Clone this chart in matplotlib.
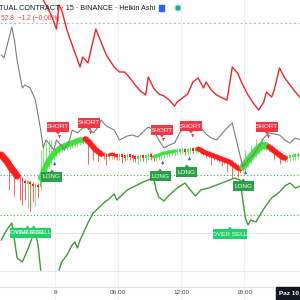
import numpy as np
import matplotlib.pyplot as plt
from matplotlib.patches import Rectangle, Polygon
from matplotlib.transforms import blended_transform_factory

plt.rcParams['font.family'] = ['Liberation Sans', 'DejaVu Sans']

# 15 minute bars, bar 0 = 18:45 on the 8th
tick_bars = [21, 45, 69, 93]
tick_labels = ['9', '06:00', '12:00', '18:00']

# heikin ashi closes, one per bar
candle_close = [145, 142, 139, 135, 131, 128, 124,
                122, 119, 117, 118, 116, 114, 115, 113,
                122, 128, 134, 139, 143, 146, 149, 151,
                153, 154, 155, 156, 157, 158, 159, 160, 160,
                161, 159, 156, 153, 150, 148, 146, 145, 144,
                145, 146, 145, 144, 145, 144, 143, 145, 144, 143, 142, 143, 144, 143, 144, 145, 144,
                143, 144, 145, 146, 147, 147, 148, 148, 149,
                149, 150, 150, 149, 150, 151, 150, 151,
                151, 150, 148, 147, 146, 145, 144, 143, 142, 141, 140, 139, 138, 136, 134, 132, 131,
                133, 136, 140, 143, 146, 149, 152, 154,
                155, 154,
                153, 151, 149, 147, 145, 143, 142,
                143, 144, 144, 145, 145, 146]
wick_low = {3: 110, 5: 104, 7: 100, 8: 95, 9: 100, 10: 92, 11: 88, 12: 98, 13: 94, 14: 102,
            33: 136, 35: 140, 37: 139, 40: 135, 46: 137, 52: 136, 55: 138,
            80: 135, 84: 134, 86: 128, 88: 122, 90: 123, 104: 140, 106: 136}
wick_high = {15: 150, 16: 155, 17: 158, 18: 160, 19: 160, 93: 150, 95: 155, 97: 160, 99: 162}

# thick trend ribbon: (first bar, last bar, colour, width)
ribbon = [(0, 6, 'red', 5), (15, 31, 'green', 4), (32, 38, 'red', 4), (41, 44, 'red', 2),
          (58, 66, 'green', 2.5), (75, 91, 'red', 3.5), (92, 101, 'green', 5), (102, 108, 'red', 4)]

gray_bars = [0, 1, 4, 5, 6, 8, 9, 11, 13, 15, 16, 17, 18, 20, 21, 23, 24, 26, 27, 29, 31, 33, 35,
             37, 38, 40, 43, 45, 48, 50, 52, 54, 56, 58, 60, 62, 64, 66, 68, 70, 72, 74, 76, 78,
             80, 82, 84, 86, 88, 90, 92, 94, 96, 98, 100, 102, 104, 106, 108, 110, 112, 114]
gray_vals = [245, 242, 273, 260, 240, 212, 215, 212, 200, 170, 152, 160, 157, 150, 160, 154, 150,
             160, 170, 167, 172, 173, 167, 173, 180, 174, 170, 160, 164, 165, 163, 168, 173, 170,
             160, 152, 155, 157, 167, 173, 175, 178, 172, 166, 162, 160, 166, 172, 177, 155, 133,
             140, 145, 153, 162, 167, 166, 165, 160, 157, 162, 160]

red_bars = [15, 17, 19, 21, 22, 23, 25, 27, 30, 31, 33, 36, 38, 40, 43, 45, 47, 49, 51, 53, 55,
            56, 58, 60, 62, 64, 66, 67, 69, 71, 73, 75, 77, 78, 80, 82, 85, 86, 88, 90, 92, 94,
            96, 98, 100, 101, 103, 104, 106, 108, 110, 112, 114]
red_vals = [305, 295, 285, 271, 295, 290, 270, 255, 233, 243, 237, 271, 258, 245, 233, 228, 228,
            222, 215, 209, 205, 223, 212, 206, 204, 200, 194, 198, 202, 206, 218, 222, 212, 218,
            210, 205, 201, 200, 233, 227, 215, 205, 197, 190, 198, 208, 203, 210, 232, 222, 215,
            208, 202]

green_bars = [0, 2, 4, 5, 6, 8, 10, 12, 13, 14, 15, 18, 22, 23, 25, 27, 28, 29, 30, 33, 35, 37,
              39, 41, 43, 44, 46, 48, 51, 54, 56, 58, 59, 60, 62, 64, 67, 70, 72, 74, 76, 79, 82,
              86, 89, 91, 92, 93, 94, 95, 97, 99, 101, 103, 106, 108, 110, 112, 114]
green_vals = [60, 70, 77, 60, 42, 38, 50, 64, 67, 55, 30, np.nan, 30, 38, 45, 55, 58, 52, 60, 77,
              87, 92, 97, 101, 106, 100, 105, 110, 114, 118, 120, 123, 110, 103, 99, 105, 112,
              117, 110, 104, 110, 112, 115, 119, 122, 120, 100, 82, 75, 80, 78, 87, 95, 102, 108,
              114, 117, 112, 114]

short_tags = [(22.1, 173), (33.9, 177), (61.7, 170), (72.8, 174), (101.7, 173)]
long_tags = [(19.8, 123), (61.0, 124), (71.2, 128), (92.6, 114)]
oversell_tags = [(10.5, 67), (12.8, 67), (87.6, 66)]

RED = '#ff1f1f'
GREEN = '#3fe23f'

fig = plt.figure(figsize=(3, 3), dpi=100)
ax = fig.add_axes([0, 0, 1, 1])
ax.set_xlim(0, 114.3)
ax.set_ylim(0, 300)
ax.axis('off')

# grid and level lines
for b in tick_bars:
    ax.axvline(b, color='#eef0f4', lw=0.8, zorder=0)
for lv in [67, 29]:
    ax.axhline(lv, color='#e6e8ee', lw=0.8, zorder=0)
ax.axhline(13, color='#e0e3eb', lw=0.8, zorder=0)
ax.axhline(277, color='#bdbdbd', lw=0.8, ls=(0, (2, 2)), zorder=0)
ax.axhline(125, color='#43b04a', lw=0.8, ls=(0, (1, 2)), zorder=1)
ax.axhline(85, color='#43b04a', lw=0.8, ls=(0, (1, 2)), zorder=1)

# candles
close = np.array(candle_close, dtype=float)
opens = np.r_[close[0] + 3, close[:-1]]
x = np.arange(len(close)) + 0.5
for i in range(len(close)):
    c, o = close[i], opens[i]
    col = GREEN if c >= o else RED
    top, bot = max(c, o), min(c, o)
    if top - bot < 2.5:
        mid = (top + bot) / 2
        top, bot = mid + 1.25, mid - 1.25
    lo = wick_low.get(i, bot - 3)
    hi = wick_high.get(i, top + 1.5)
    ax.vlines(x[i], lo, hi, color=col, lw=0.5, zorder=2)
    ax.add_patch(Rectangle((x[i] - 0.3, bot), 0.6, top - bot, color=col, lw=0, zorder=2))

for a, b, col, w in ribbon:
    ax.plot(x[a:b + 1], close[a:b + 1], color=RED if col == 'red' else GREEN, lw=w,
            solid_capstyle='round', zorder=3)

ax.plot(np.array(gray_bars) + 0.5, gray_vals, color='#7d7d7d', lw=0.8, zorder=4)
ax.plot(np.array(red_bars) + 0.5, red_vals, color='#e8272b', lw=1.0, zorder=4)
ax.plot(np.array(green_bars) + 0.5, green_vals, color='#3f9b35', lw=1.0, zorder=4)

label_font = ['Liberation Sans Narrow', 'Liberation Sans', 'DejaVu Sans']


def tag(k, v, text, color, w, pointer):
    h = 10
    ax.add_patch(Rectangle((k - w / 2, v - h / 2), w, h, color=color, lw=0, zorder=6))
    if pointer == 'down':
        tri = [(k - 0.8, v - h / 2), (k + 0.8, v - h / 2), (k, v - h / 2 - 2.5)]
    else:
        tri = [(k - 0.8, v + h / 2), (k + 0.8, v + h / 2), (k, v + h / 2 + 2.5)]
    ax.add_patch(Polygon(tri, color=color, lw=0, zorder=6))
    ax.text(k, v, text, ha='center', va='center', color='white', fontsize=4.6,
            family=label_font, zorder=7)


for k, v in short_tags:
    tag(k, v, 'SHORT', '#f23645', 8.4, 'down')
    ax.annotate('', xy=(k + 0.6, v - 14), xytext=(k + 0.6, v - 7),
                arrowprops=dict(arrowstyle='-|>', color='#f23645', lw=0.6,
                                mutation_scale=3.5), zorder=7)
for k, v in long_tags:
    tag(k, v, 'LONG', '#27a046', 8.0, 'up')
    ax.annotate('', xy=(k + 1.0, v + 18), xytext=(k + 1.0, v + 9),
                arrowprops=dict(arrowstyle='-|>', color='#2962ff', lw=0.6,
                                mutation_scale=3.5), zorder=7)
for k, v in oversell_tags:
    tag(k, v, 'OVER SELL', '#1fd36a', 13.0, 'up')

# header
fig.text(-0.003, 1 - 8.5 / 300, 'TUAL CONTRACT · 15 · BINANCE · Heikin Ashi', ha='left',
         va='center', fontsize=5.2, color='#131722')
fig.text(0.003, 1 - 18 / 300, '52.8  −1.2 (−0.00%)', ha='left', va='center', fontsize=4.8,
         color='#f23645')
fig.patches.append(Rectangle((159 / 300, 1 - 11 / 300), 5 / 300, 6 / 300, color='#2962ff',
                             transform=fig.transFigure, figure=fig))
fig.patches.append(plt.Circle((178 / 300, 1 - 8 / 300), 4 / 300, color='#d9f2ed',
                              transform=fig.transFigure, figure=fig))
fig.patches.append(plt.Circle((178 / 300, 1 - 8 / 300), 2 / 300, color='#22a58e',
                              transform=fig.transFigure, figure=fig))

# time axis
trans = blended_transform_factory(ax.transData, ax.transAxes)
for b, lab in zip(tick_bars, tick_labels):
    ax.text(b, 7 / 300, lab, transform=trans, ha='center', va='center', fontsize=4.6,
            color='#4a4a4a')
fig.patches.append(Rectangle((276 / 300, 0), 30 / 300, 13 / 300, color='#131722',
                             transform=fig.transFigure, figure=fig))
fig.text(279 / 300, 6.5 / 300, "Paz 10 Ağu '24", ha='left', va='center', fontsize=4.6,
         color='white', fontweight='bold')

fig.savefig('out.png', dpi=100, facecolor='white')
